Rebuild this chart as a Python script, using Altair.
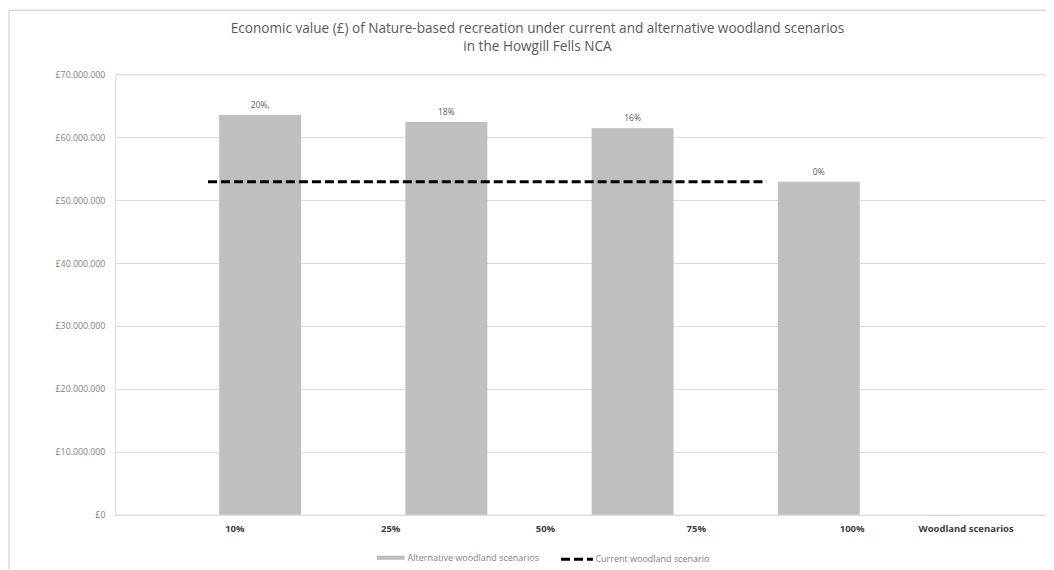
import altair as alt
import pandas as pd

# ---- data ----
bar_categories = ["10%", "25%", "50%", "75%"]
bar_values = [63_500_000, 62_400_000, 61_400_000, 52_900_000]
bar_labels = ["20%,", "18%", "16%", "0%"]
current_value = 52_900_000
axis_labels = ["10%", "25%", "50%", "75%", "100%", "Woodland scenarios"]
title_lines = [
    "Economic value (£) of Nature-based recreation under current and alternative woodland scenarios",
    "in the Howgill Fells NCA",
]

ALT_NAME = "Alternative woodland scenarios"
CUR_NAME = "Current woodland scenario"

# ---- layout helpers (slot units on a 0..5 axis) ----
W, H = 932, 441
bars = pd.DataFrame({
    "cat": bar_categories,
    "value": bar_values,
    "label": bar_labels,
    "x0": [i + 0.56 for i in range(len(bar_categories))],
    "x1": [i + 1.0 for i in range(len(bar_categories))],
    "series": ALT_NAME,
})
bars["xm"] = (bars["x0"] + bars["x1"]) / 2
line = pd.DataFrame({
    "pos": [i + 0.5 for i in range(len(bar_categories))],
    "value": [current_value] * len(bar_categories),
    "series": CUR_NAME,
})
label_pos = [0.644, 1.481, 2.312, 3.122, 3.959, 4.571]
xlab = pd.DataFrame({"label": axis_labels, "pos": label_pos})

FONT = "Open Sans"
xscale = alt.Scale(domain=[0, 5], nice=False, zero=False)
yscale = alt.Scale(domain=[0, 70_000_000], nice=False)

frame = alt.Chart(pd.DataFrame({"a": [0]})).mark_rect(
    filled=False, stroke="#d9d9d9", strokeWidth=1.5
).encode(
    x=alt.value(-106), x2=alt.value(W + 60),
    y=alt.value(-64), y2=alt.value(H + 80),
)

def title_row(text, ypix):
    return alt.Chart(pd.DataFrame({"t": [text]})).mark_text(
        font=FONT, fontSize=13.6, color="#595959", baseline="middle", align="center"
    ).encode(
        x=alt.value(W / 2 - 43),
        y=alt.value(ypix),
        text="t:N",
    )

title1 = title_row(title_lines[0], -45)
title2 = title_row(title_lines[1], -27)

bar_layer = alt.Chart(bars).mark_bar(color="#bfbfbf").encode(
    x=alt.X("x0:Q", scale=xscale, axis=None),
    x2="x1:Q",
    y=alt.Y(
        "value:Q", scale=yscale, title=None,
        axis=alt.Axis(
            values=list(range(0, 70_000_001, 10_000_000)),
            labelExpr="'£' + replace(replace(format(datum.value, ','), ',', '.'), ',', '.')",
            grid=True, gridColor="#d9d9d9", gridWidth=1,
            domain=False, ticks=False, labelPadding=10,
            labelFont=FONT, labelFontSize=8.8, labelColor="#7f7f7f",
        ),
    ),
    y2=alt.datum(0),
    fill=alt.Fill(
        "series:N",
        scale=alt.Scale(domain=[ALT_NAME], range=["#bfbfbf"]),
        legend=alt.Legend(
            title=None, orient="none", legendX=262, legendY=470, padding=0,
            symbolType="M-1,-0.15H1V0.15H-1Z", symbolSize=784, symbolStrokeWidth=0,
            labelFont=FONT, labelFontSize=9, labelColor="#7f7f7f", labelOffset=3,
        ),
    ),
)

bar_text = alt.Chart(bars).mark_text(
    dy=-10, font=FONT, fontSize=8.5, color="#595959"
).encode(
    x=alt.X("xm:Q", scale=xscale, axis=None),
    y=alt.Y("value:Q", scale=yscale),
    text="label:N",
)

line_layer = alt.Chart(line).mark_line(color="black", strokeWidth=3).encode(
    x=alt.X("pos:Q", scale=xscale, axis=None),
    y=alt.Y("value:Q", scale=yscale),
    strokeDash=alt.StrokeDash(
        "series:N",
        scale=alt.Scale(domain=[CUR_NAME], range=[[9, 4]]),
        legend=alt.Legend(
            title=None, orient="none", legendX=445, legendY=468, padding=0,
            symbolType="stroke", symbolSize=1024, symbolStrokeWidth=3,
            symbolStrokeColor="black",
            labelFont=FONT, labelFontSize=9, labelColor="#7f7f7f", labelOffset=1,
        ),
    ),
)

xlabels = alt.Chart(xlab).mark_text(
    font=FONT, fontSize=9.5, fontWeight="bold", color="#404040", baseline="middle"
).encode(
    x=alt.X("pos:Q", scale=xscale, axis=None),
    y=alt.value(H + 14),
    text="label:N",
)

chart = alt.layer(frame, title1, title2, bar_layer, bar_text, line_layer, xlabels).properties(
    width=W, height=H,
    autosize=alt.AutoSizeParams(type="none"),
    padding={"left": 107, "top": 66, "right": 0, "bottom": 54},
).configure_view(stroke=None).configure(background="white")

chart.save("out.html", embed_options={"renderer": "svg", "actions": False})
